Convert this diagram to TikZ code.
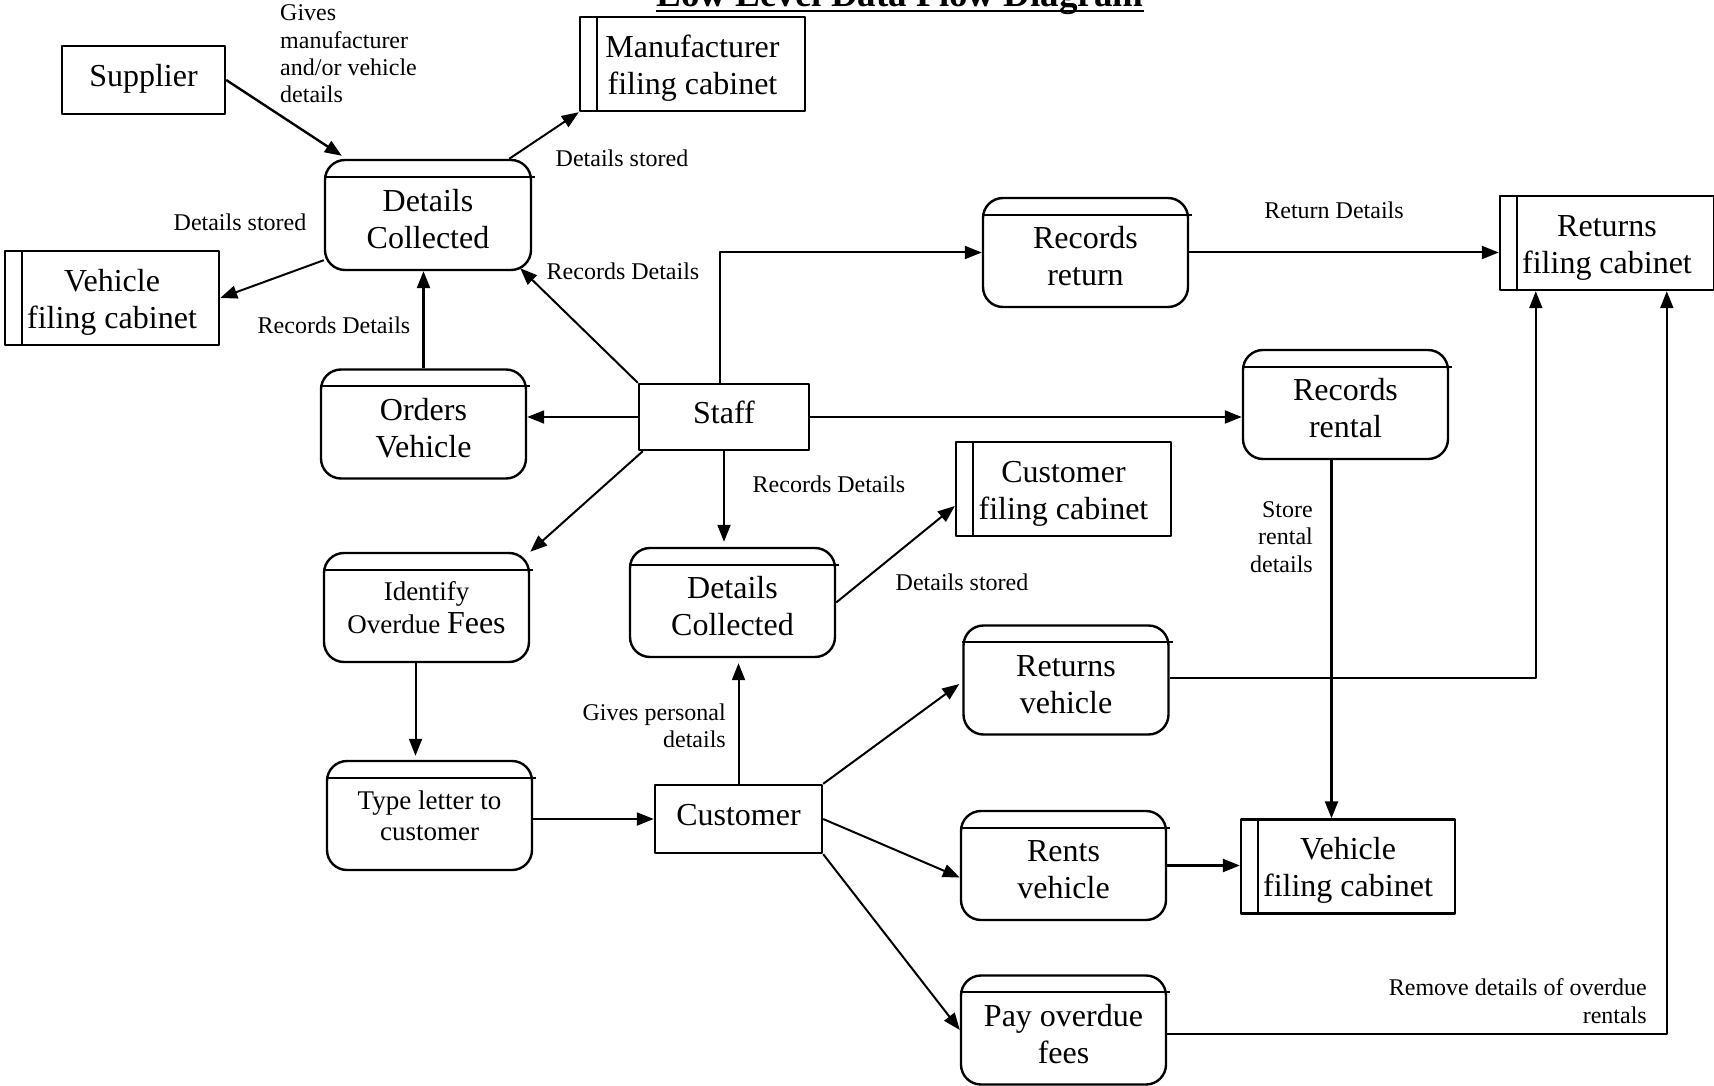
\documentclass[tikz,border=0pt]{standalone}
\usepackage{fontspec}
\setmainfont{Liberation Serif}
\usetikzlibrary{arrows.meta,positioning,calc}

\newcommand\dfdbig{\fontsize{32}{37}\selectfont}
\newcommand\dfdmid{\fontsize{27}{31}\selectfont}
\newcommand\dfdsmall{\fontsize{24}{27.4}\selectfont}
\newcommand\dfdtitle{\fontsize{37}{40}\selectfont\bfseries}
\newcommand\dfdup{\rule{0pt}{30pt}}

\tikzset{
  entity/.style={draw, line width=2.4pt, minimum width=165pt, minimum height=67pt, text height=22pt, text depth=9pt, font=\dfdbig},
  procbox/.style={draw, line width=2.4pt, rounded corners=20pt, minimum width=205pt, minimum height=109pt, align=center},
  proc/.style={procbox, font=\dfdbig},
  procsmall/.style={procbox, font=\dfdmid},
  store/.style={draw, line width=2.4pt, minimum width=214pt, minimum height=94pt, align=center, font=\dfdbig},
  flow/.style={-{Triangle[length=17pt,width=13pt]}, line width=2pt},
  lbl/.style={font=\dfdsmall, inner sep=0pt}
}

\begin{document}
\begin{tikzpicture}[x=1pt, y=-1pt, line cap=butt, line join=round]
\useasboundingbox (0,0) rectangle (1714,1086);
\clip (0,0) rectangle (1714,1086);

% title, cut at the top edge
\node[font=\dfdtitle, inner sep=0pt, anchor=base] (title) at (900,7) {Low Level Data Flow Diagram};
\draw[line width=2.8pt] ($(title.base west)+(0,4)$) -- ($(title.base east)+(0,4)$);

% external entities
\node[entity, minimum width=163pt, minimum height=68pt] (supplier) at (143.5,80) {Supplier};
\node[entity, minimum width=170pt, minimum height=66pt] (staff) at (724,417) {Staff};
\node[entity, minimum width=167pt, minimum height=68pt] (customer) at (738.5,819) {Customer};

% processes
\node[proc, minimum width=206pt, minimum height=110pt] (dc1) at (428,215) {\dfdup Details\\Collected};
\node[proc] (orders) at (423.5,424) {\dfdup Orders\\Vehicle};
\node[proc] (recret) at (1085.5,252.5) {\dfdup Records\\return};
\node[proc] (recrent) at (1345.5,404.5) {\dfdup Records\\rental};
\node[procsmall] (ident) at (426.5,607.5) {Identify\\[2pt]Overdue {\dfdbig Fees}};
\node[proc] (dc2) at (732.5,602.5) {\dfdup Details\\Collected};
\node[proc] (retveh) at (1066,680) {\dfdup Returns\\vehicle};
\node[procsmall] (typelet) at (429.5,815.5) {Type letter to\\customer};
\node[proc] (rents) at (1063.5,865.5) {\dfdup Rents\\vehicle};
\node[proc] (payfees) at (1063.5,1030) {\dfdup Pay overdue\\fees};

\foreach \n in {dc1,orders,recret,recrent,ident,dc2,retveh,typelet,rents,payfees}
  \draw[line width=2pt] ($(\n.north west)+(0,18)$) -- ($(\n.north east)+(3,18)$);

% data stores
\node[store, minimum width=225pt] (manuf) at (692.5,64) {\dfdup Manufacturer\\filing cabinet};
\node[store] (vfc1) at (112,298) {\dfdup Vehicle\\filing cabinet};
\node[store, minimum width=215pt] (cfc) at (1063.5,489) {\dfdup Customer\\filing cabinet};
\node[store] (rfc) at (1607,243) {\dfdup Returns\\filing cabinet};
\node[store] (vfc2) at (1348,866.5) {\dfdup Vehicle\\filing cabinet};

\foreach \n in {manuf,vfc1,cfc,rfc,vfc2}
  \draw[line width=2.4pt] ($(\n.north west)+(18,0)$) -- ($(\n.south west)+(18,0)$);

% flows
\draw[flow, line width=2.4pt] (supplier.east) -- ($(dc1.north west)+(18,-3)$);
\draw[flow] ($(dc1.north east)+(-23,0)$) -- (manuf.south west);
\draw[flow] ($(dc1.south west)+(0,-11)$) -- (vfc1.east);
\draw[flow, line width=2.4pt] (orders.north) -- (orders.north |- dc1.south);
\draw[flow] (staff.north west) -- ($(dc1.south east)+(-12,-3)$);
\draw[flow] (staff.west) -- (staff.west -| orders.east);
\draw[flow] ($(staff.north)+(-4,0)$) |- (recret.west);
\draw[flow] (recret.east) -- (recret.east -| rfc.west);
\draw[flow] (staff.east) -- (staff.east -| recrent.west);
\draw[flow] ($(staff.south west)+(5,0)$) -- (ident.north east);
\draw[flow] (staff.south) -- ($(staff.south |- dc2.north)+(0,-5)$);
\draw[flow] (dc2.east) -- ($(cfc.west)+(0,17)$);
\draw[flow] ($(ident.south)+(-11,0)$) -- ($(ident.south |- typelet.north)+(-11,-4)$);
\draw[flow] (typelet.east |- customer.west) -- (customer.west);
\draw[flow] (customer.north) -- ($(customer.north |- dc2.south)+(0,5)$);
\draw[flow] (customer.north east) -- ($(retveh.west)+(-3,4)$);
\draw[flow] (customer.east) -- ($(rents.west)+(0,12)$);
\draw[flow] (customer.south east) -- (payfees.west);

\coordinate (rfcA) at ($(rfc.south west)+(37,0)$);
\coordinate (rfcB) at ($(rfc.south west)+(168,0)$);
\coordinate (vfcT) at ($(recrent.south)+(-14,0)$);
\draw[flow] ($(retveh.east)+(0,-2)$) -| (rfcA);
\draw[flow, line width=2.4pt] (vfcT) -- (vfcT |- vfc2.north);
\draw[flow, line width=2.4pt] (rents.east) -- (rents.east -| vfc2.west);
\draw[flow] ($(payfees.west -| payfees.east)+(0,4)$) -| (rfcB);

% flow labels
\node[lbl, anchor=west, align=left] (lgives) at (280,54) {Gives\\manufacturer\\and/or vehicle\\details};
\node[lbl] (lstored1) at (622,158) {Details stored};
\node[lbl] (lstored2) at (240,222) {Details stored};
\node[lbl] (lrec1) at (334,325) {Records Details};
\node[lbl] (lrec2) at (623,271) {Records Details};
\node[lbl] (lreturn) at (1334,210) {Return Details};
\node[lbl] (lrec3) at (829,484) {Records Details};
\node[lbl, anchor=east, align=right] (lstore) at (1313,537) {Store\\rental\\details};
\node[lbl] (lstored3) at (962,582) {Details stored};
\node[lbl, anchor=east, align=right] (lpersonal) at (726,726) {Gives personal\\details};
\node[lbl, anchor=east, align=right] (lremove) at (1647,1001) {Remove details of overdue\\rentals};

\end{tikzpicture}
\end{document}
